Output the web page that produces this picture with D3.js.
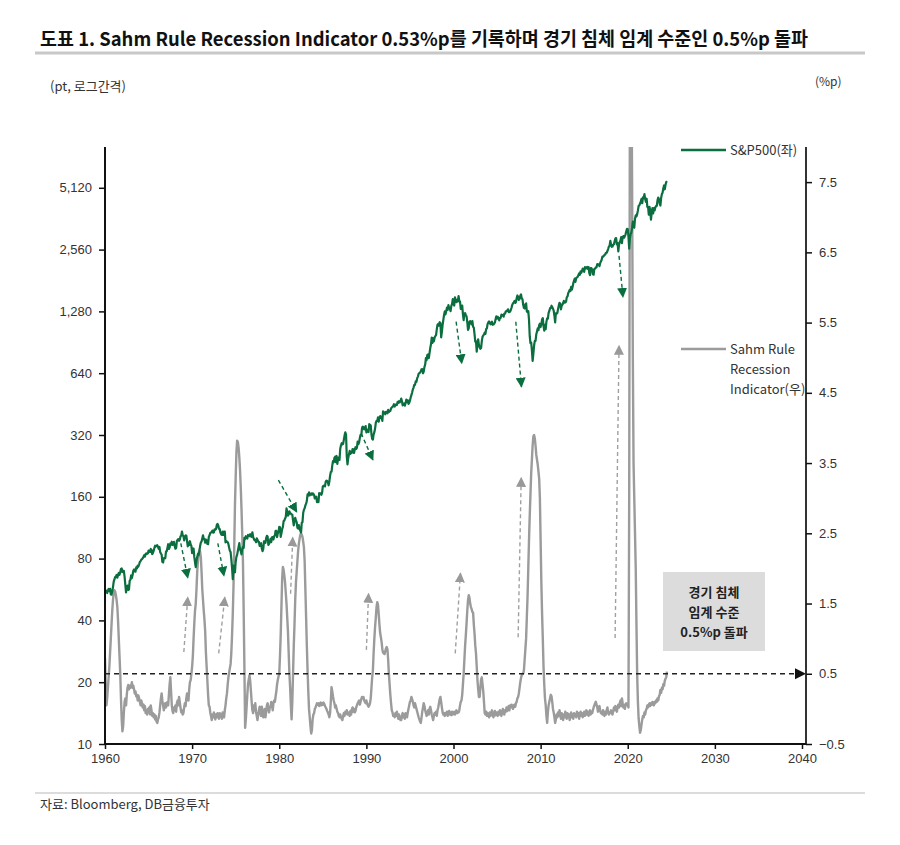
<!DOCTYPE html>
<html><head><meta charset="utf-8">
<script src="https://cdn.jsdelivr.net/npm/d3@7"></script>
<style>body{margin:0;background:#fff}svg{display:block}</style>
</head><body>
<svg id="c" width="900" height="845"></svg>
<script>
// ---------------- data ----------------
const startYear = 1960; // monthly series, first point = Jan 1960
const sp500 = [
55.6,56.1,55.3,54.4,55.8,56.9,55.5,57.0,53.5,53.4,55.5,58.1,
61.8,63.4,65.1,65.3,66.6,64.6,66.8,68.1,66.7,68.6,71.3,71.6,
68.8,69.9,69.6,65.2,59.6,54.8,58.2,59.1,56.3,56.5,62.3,63.1,
66.2,64.3,66.6,69.8,70.8,69.4,69.1,72.5,71.7,74.0,73.2,75.0,
77.0,77.8,79.0,79.5,80.4,81.7,83.2,81.8,84.2,84.9,84.4,84.8,
87.6,87.4,86.2,89.1,88.4,84.1,85.3,87.2,90.0,92.4,91.6,92.4,
92.9,91.2,89.2,91.1,86.1,84.7,83.6,77.1,76.6,80.2,80.5,80.3,
86.6,86.8,90.2,94.0,89.1,90.6,94.8,93.6,96.7,93.3,94.0,96.5,
92.2,89.4,90.2,97.5,98.7,99.6,97.7,98.9,102.7,103.4,108.4,103.9,
103.0,98.1,101.5,103.7,103.5,97.7,91.8,95.5,93.1,97.2,93.8,92.1,
85.0,89.5,89.6,81.5,76.6,72.7,78.1,81.5,84.3,83.3,87.2,92.2,
95.9,96.8,100.3,103.9,99.6,99.7,95.6,99.0,98.3,94.2,94.0,102.1,
103.9,106.6,107.2,107.7,109.5,107.1,107.4,111.1,110.6,111.6,116.7,118.1,
116.0,111.7,111.5,107.0,105.0,104.3,108.2,104.3,108.4,108.3,96.0,97.6,
96.6,96.2,94.0,90.3,87.3,86.0,79.3,72.2,63.5,73.9,70.0,68.6,
77.0,81.6,83.4,87.3,91.2,95.2,88.8,86.9,83.9,89.0,91.2,90.2,
100.9,99.7,102.8,101.6,100.2,104.3,103.4,102.9,105.2,102.9,102.1,107.5,
102.0,99.8,98.4,98.4,96.1,100.5,98.9,96.8,96.5,92.3,94.8,95.1,
89.3,87.0,89.2,97.0,97.2,95.5,100.7,103.3,102.5,93.2,94.7,96.1,
99.9,96.3,101.6,101.8,99.1,102.9,103.8,109.3,109.3,101.8,106.2,107.9,
114.2,113.7,102.1,106.3,111.2,114.2,121.7,122.4,125.5,127.5,140.5,135.8,
129.6,131.3,136.0,132.8,132.6,131.2,130.9,122.8,116.2,121.9,126.4,122.6,
120.4,113.1,112.0,116.4,111.9,109.6,107.1,119.5,120.4,133.7,138.5,140.6,
145.3,148.1,153.0,164.4,162.4,168.1,162.6,164.4,166.1,163.6,166.4,164.9,
163.4,157.1,159.2,160.1,150.6,153.2,150.7,166.7,166.1,166.1,163.6,167.2,
179.6,181.2,180.7,179.8,189.6,191.9,190.9,188.6,182.1,189.8,202.2,211.3,
211.8,226.9,238.9,235.5,247.4,250.8,236.1,252.9,231.3,244.0,249.2,242.2,
274.1,284.2,291.7,288.4,290.1,304.0,318.7,329.8,321.8,251.8,230.3,247.1,
257.1,267.8,258.9,261.3,262.2,273.5,272.0,261.5,271.9,279.0,273.7,277.7,
297.5,288.9,294.9,309.6,320.5,318.0,346.1,351.5,349.2,340.4,346.0,353.4,
329.1,331.9,339.9,330.8,361.2,358.0,356.2,322.6,306.1,304.0,322.2,330.2,
343.9,367.1,375.2,375.3,389.8,371.2,387.8,395.4,387.9,392.5,375.2,417.1,
408.8,412.7,403.7,415.0,415.4,408.1,424.2,414.0,417.8,418.7,431.4,435.7,
438.8,443.4,451.7,440.2,450.2,450.5,448.1,463.6,458.9,467.8,461.8,466.5,
481.6,467.1,445.8,450.9,456.5,444.3,458.3,475.5,462.7,472.4,453.7,459.3,
470.4,487.4,500.7,514.7,533.4,544.8,562.1,561.9,584.4,581.5,605.4,615.9,
636.0,640.4,645.5,654.2,669.1,670.6,640.0,652.0,687.3,705.3,757.0,740.7,
786.2,790.8,757.1,801.3,848.3,885.1,954.3,899.5,947.3,914.6,955.4,970.4,
980.3,1049.3,1101.8,1111.8,1090.8,1133.8,1120.7,957.3,1017.0,1098.7,1163.6,1229.2,
1279.6,1238.3,1286.4,1335.2,1301.8,1372.7,1328.7,1320.4,1282.7,1362.9,1388.9,1469.3,
1394.5,1366.4,1498.6,1452.4,1420.6,1454.6,1430.8,1517.7,1436.5,1429.4,1315.2,1320.3,
1366.0,1239.9,1160.3,1249.5,1255.8,1224.4,1211.2,1133.6,1040.9,1059.8,1139.5,1148.1,
1130.2,1106.7,1147.4,1076.9,1067.1,989.8,911.6,916.1,815.3,885.8,936.3,879.8,
855.7,841.2,848.2,916.9,963.6,974.5,990.3,1008.0,996.0,1050.7,1058.2,1111.9,
1131.1,1144.9,1126.2,1107.3,1120.7,1140.8,1101.7,1104.2,1114.6,1130.2,1173.8,1211.9,
1181.3,1203.6,1180.6,1156.9,1191.5,1191.3,1234.2,1220.3,1228.8,1207.0,1249.5,1248.3,
1280.1,1280.7,1294.9,1310.6,1270.1,1270.2,1276.7,1303.8,1335.9,1377.9,1400.6,1418.3,
1438.2,1406.8,1420.9,1482.4,1530.6,1503.4,1455.3,1474.0,1526.8,1549.4,1481.1,1468.4,
1378.6,1330.6,1322.7,1385.6,1400.4,1280.0,1267.4,1282.8,1166.4,968.8,896.2,903.3,
825.9,735.1,797.9,872.8,919.1,919.3,987.5,1020.6,1057.1,1036.2,1095.6,1115.1,
1073.9,1104.5,1169.4,1186.7,1089.4,1030.7,1101.6,1049.3,1141.2,1183.3,1180.6,1257.6,
1286.1,1327.2,1325.8,1363.6,1345.2,1320.6,1292.3,1218.9,1131.4,1253.3,1247.0,1257.6,
1312.4,1365.7,1408.5,1397.9,1310.3,1362.2,1379.3,1406.6,1440.7,1412.2,1416.2,1426.2,
1498.1,1514.7,1569.2,1597.6,1630.7,1606.3,1685.7,1633.0,1681.6,1756.5,1805.8,1848.4,
1782.6,1859.5,1872.3,1884.0,1923.6,1960.2,1930.7,2003.4,1972.3,2018.1,2067.6,2058.9,
1995.0,2104.5,2067.9,2085.5,2107.4,2063.1,2103.8,1972.2,1920.0,2079.4,2080.4,2043.9,
1940.2,1932.2,2059.7,2065.3,2097.0,2098.9,2173.6,2171.0,2168.3,2126.2,2198.8,2238.8,
2278.9,2363.6,2362.7,2384.2,2411.8,2423.4,2470.3,2471.7,2519.4,2575.3,2647.6,2673.6,
2823.8,2713.8,2640.9,2648.1,2705.3,2718.4,2816.3,2901.5,2914.0,2711.7,2760.2,2506.9,
2704.1,2784.5,2834.4,2945.8,2752.1,2941.8,2980.4,2926.5,2976.7,3037.6,3141.0,3230.8,
3225.5,2954.2,2584.6,2912.4,3044.3,3100.3,3271.1,3500.3,3363.0,3270.0,3621.6,3756.1,
3714.2,3811.2,3972.9,4181.2,4204.1,4297.5,4395.3,4522.7,4307.5,4605.4,4567.0,4766.2,
4515.6,4373.9,4530.4,4131.9,4132.2,3785.4,4130.3,3955.0,3585.6,3872.0,4080.1,3839.5,
4076.6,3970.2,4109.3,4169.5,4179.8,4450.4,4589.0,4507.7,4288.1,4193.8,4567.8,4769.8,
4845.7,5096.3,5254.4,5035.7,5277.5,5460.5,5522.3
];
const sahm = [
0.72,0.35,0.05,0.15,0.30,0.45,0.60,0.80,1.00,1.20,1.40,1.55,
1.65,1.69,1.67,1.62,1.55,1.45,1.25,1.00,0.75,0.50,0.15,-0.15,
-0.32,-0.25,-0.05,0.10,0.15,0.05,0.20,0.30,0.34,0.28,0.33,0.30,
0.32,0.38,0.30,0.33,0.28,0.22,0.25,0.18,0.20,0.12,0.19,0.15,
0.10,0.05,0.12,0.08,0.02,0.06,-0.02,0.04,-0.06,-0.03,-0.08,0.00,
-0.05,0.02,-0.08,0.05,-0.02,-0.10,-0.06,-0.12,-0.08,-0.15,-0.10,-0.18,
-0.20,-0.15,-0.12,-0.05,0.05,0.15,0.22,0.12,0.05,-0.02,0.03,0.08,
0.02,0.06,0.10,0.05,0.20,0.35,0.45,0.25,0.05,-0.03,-0.06,0.02,
-0.02,0.05,-0.04,0.08,0.12,0.05,0.17,0.10,0.02,-0.05,-0.02,-0.08,
-0.06,0.02,0.08,0.04,0.15,0.22,0.18,0.12,0.28,0.38,0.41,0.50,
0.60,0.75,1.00,1.22,1.40,1.50,1.70,1.95,2.10,2.22,2.26,2.24,
2.16,1.95,1.70,1.55,1.40,1.27,1.10,0.80,0.60,0.40,0.20,0.05,
0.03,-0.05,-0.10,-0.16,-0.08,-0.12,-0.05,-0.10,-0.15,-0.08,-0.12,-0.06,
-0.10,-0.14,-0.06,-0.11,-0.08,-0.14,-0.05,-0.09,-0.12,-0.02,0.05,0.15,
0.22,0.35,0.45,0.52,0.58,0.64,0.80,1.05,1.35,1.75,2.30,2.90,
3.30,3.65,3.82,3.80,3.72,3.58,3.40,3.15,2.85,2.50,2.10,1.40,
0.60,-0.27,-0.15,0.02,0.20,0.35,0.42,0.48,0.40,0.25,0.10,-0.02,
-0.06,0.05,-0.02,0.08,-0.04,-0.10,-0.16,-0.08,-0.02,0.03,-0.06,-0.10,
0.03,-0.05,-0.12,-0.06,0.00,-0.12,-0.04,0.05,0.08,0.00,-0.05,0.02,
0.03,0.10,0.05,-0.02,0.08,0.12,0.10,0.18,0.25,0.35,0.41,0.46,
0.50,0.75,1.05,1.45,1.85,2.02,1.98,1.90,1.80,1.65,1.50,1.30,
1.10,0.80,0.50,0.30,0.05,-0.15,0.10,0.50,0.90,1.20,1.55,1.80,
1.95,2.10,2.25,2.35,2.42,2.48,2.50,2.48,2.45,2.38,2.30,2.10,
1.70,1.30,0.90,0.55,0.25,0.00,-0.12,-0.25,-0.35,-0.30,-0.15,-0.08,
-0.06,0.00,0.02,0.05,0.08,0.06,0.08,0.04,0.07,0.09,0.05,0.08,
0.06,0.09,0.07,0.04,0.02,0.00,-0.03,-0.05,-0.08,-0.12,-0.06,0.10,
0.31,0.25,0.18,0.12,0.08,0.02,0.05,0.00,-0.04,-0.06,-0.10,-0.12,
-0.08,-0.12,-0.14,-0.16,-0.10,-0.06,-0.10,-0.04,-0.07,-0.02,-0.08,-0.05,
-0.06,-0.10,-0.03,-0.08,-0.01,0.02,-0.04,0.00,-0.05,-0.03,0.02,0.05,
0.08,0.10,0.12,0.06,0.10,0.14,0.17,0.15,0.17,0.12,0.10,0.08,
0.12,0.08,0.05,0.03,0.05,0.08,0.15,0.30,0.45,0.55,0.80,1.00,
1.17,1.30,1.45,1.52,1.48,1.35,1.20,1.08,1.02,0.95,0.85,0.80,
0.79,0.78,0.82,0.86,0.88,0.85,0.70,0.50,0.35,0.20,0.08,-0.02,
-0.05,-0.10,-0.08,-0.12,-0.06,-0.10,-0.04,-0.09,-0.14,-0.08,-0.12,-0.16,
-0.16,-0.10,-0.06,-0.12,-0.08,-0.14,-0.06,-0.10,-0.12,-0.05,0.00,0.05,
0.10,0.12,0.17,0.14,0.10,0.05,0.02,0.08,0.04,0.00,-0.04,-0.08,
-0.12,-0.15,-0.18,-0.20,-0.12,-0.04,0.02,0.08,0.04,-0.02,-0.06,-0.10,
-0.05,-0.02,-0.08,0.00,0.03,-0.02,-0.08,-0.12,-0.16,-0.10,-0.06,-0.08,
-0.04,-0.10,-0.02,0.02,0.08,0.14,0.17,0.10,0.02,-0.05,-0.08,-0.06,
-0.10,-0.06,-0.08,-0.04,-0.10,-0.06,-0.03,-0.08,-0.05,-0.09,-0.04,-0.08,
-0.06,-0.04,-0.08,-0.05,-0.02,-0.06,-0.04,-0.05,-0.02,0.05,0.10,0.12,
0.20,0.35,0.50,0.70,0.90,1.05,1.22,1.40,1.55,1.62,1.58,1.50,
1.45,1.42,1.38,1.37,1.20,1.07,0.90,0.79,0.60,0.41,0.28,0.17,
0.17,0.30,0.42,0.45,0.35,0.25,0.10,-0.06,-0.08,-0.04,-0.10,-0.06,
-0.08,-0.12,-0.05,-0.10,-0.06,-0.02,-0.08,-0.12,-0.07,-0.03,-0.09,-0.05,
-0.06,-0.10,-0.04,-0.08,-0.02,-0.06,-0.10,-0.04,0.00,-0.05,-0.08,-0.02,
-0.04,0.02,-0.03,0.00,0.04,-0.02,0.05,0.02,0.06,0.03,0.00,0.05,
0.06,0.03,0.08,0.10,0.15,0.17,0.22,0.30,0.38,0.44,0.48,0.50,
0.50,0.55,0.70,0.85,1.00,1.30,1.60,2.00,2.40,2.75,3.05,3.35,
3.55,3.75,3.88,3.90,3.85,3.75,3.62,3.55,3.48,3.38,3.28,3.00,
2.40,1.80,1.36,1.00,0.60,0.35,0.15,0.05,-0.10,-0.20,-0.05,0.05,
0.10,0.15,0.20,0.18,0.10,0.00,-0.05,-0.12,-0.20,-0.15,-0.08,-0.12,
-0.05,-0.10,-0.02,-0.08,-0.14,-0.06,-0.10,-0.16,-0.08,-0.12,-0.04,-0.10,
-0.14,-0.06,-0.12,-0.08,-0.16,-0.10,-0.05,-0.12,-0.08,-0.14,-0.06,-0.10,
-0.08,-0.12,-0.04,-0.10,-0.06,-0.14,-0.08,-0.04,-0.10,-0.06,-0.12,-0.08,
-0.04,-0.10,-0.06,-0.02,-0.08,-0.04,-0.10,-0.06,-0.02,-0.08,-0.04,-0.06,
-0.02,0.02,0.05,0.08,0.10,0.06,0.02,-0.04,0.00,0.04,-0.02,-0.06,
-0.04,-0.08,-0.02,-0.06,-0.10,-0.04,-0.08,-0.02,0.02,-0.04,-0.08,-0.05,
-0.06,-0.02,-0.05,-0.08,-0.03,0.02,-0.02,0.04,0.00,-0.04,0.02,0.06,
0.02,0.08,0.12,0.04,0.15,0.08,0.02,0.06,0.00,0.05,0.08,0.06,
0.05,0.02,3.00,9.00,9.50,9.20,7.50,5.00,3.50,3.00,2.50,2.00,
1.20,0.48,0.10,-0.14,-0.25,-0.34,-0.30,-0.22,-0.15,-0.10,-0.12,-0.05,
-0.08,-0.02,0.00,0.05,0.02,0.06,0.08,0.04,0.08,0.06,0.10,0.07,
0.05,0.10,0.08,0.12,0.10,0.15,0.12,0.18,0.20,0.27,0.23,0.30,
0.28,0.35,0.33,0.40,0.43,0.45,0.53
];
const leftTicks = [10,20,40,80,160,320,640,1280,2560,5120];
const rightTicks = [-0.5,0.5,1.5,2.5,3.5,4.5,5.5,6.5,7.5];
const xTicks = [1960,1970,1980,1990,2000,2010,2020,2030,2040];
const threshold = 0.5;
// arrows: [fromYear, fromValue, toYear, toValue]
const spArrows = [
  [1968.7,95,1969.5,64.5],[1972.95,95,1973.65,66],[1979.9,193,1982.0,135],
  [1989.4,326,1990.75,242],[2000.3,1140,2000.95,715],[2007.15,1140,2007.8,550],
  [2019.0,2384,2019.45,1505]
];
const sahmArrows = [
  [1969.05,0.81,1969.5,1.59],[1973.05,0.79,1973.75,1.59],[1981.3,1.64,1981.55,2.44],
  [1990.0,0.84,1990.25,1.64],[2000.2,0.79,2000.8,1.93],[2007.42,1.02,2007.77,3.29],
  [2018.55,1.01,2019.0,5.17]
];
const titleText = "도표 1. Sahm Rule Recession Indicator 0.53%p를 기록하며 경기 침체 임계 수준인 0.5%p 돌파";
const leftUnit = "(pt, 로그간격)";
const rightUnit = "(%p)";
const legendSp = "S&P500(좌)";
const legendSahm = ["Sahm Rule","Recession","Indicator(우)"];
const noteLines = ["경기 침체","임계 수준","0.5%p 돌파"];
const sourceText = "자료: Bloomberg, DB금융투자";

// ---------------- layout ----------------
const L = 105, R = 806, T = 147, B = 744;
const GREEN = "#0b6e3e", GRAY = "#9b9b9b", INK = "#333";
const KR = "'Noto Sans CJK KR','Noto Sans',sans-serif";
const NUM = "'Liberation Sans',Arial,sans-serif";

const svg = d3.select("#c");
const x = d3.scaleLinear().domain([1960, 2040.46]).range([L, R]);
const yL = d3.scaleLog().base(2).domain([10, 8090]).range([B, T]);
const yR = d3.scaleLinear().domain([-0.5, 8]).range([B, T]);

const spData = sp500.map((v,i)=>({t:startYear+i/12, v}));
const sahmData = sahm.map((v,i)=>({t:startYear+i/12, v}));

// title
svg.append("text").attr("x",40).attr("y",46).text(titleText)
  .attr("font-family",KR).attr("font-weight",700).attr("font-size",19)
  .attr("fill","#111").attr("textLength",768).attr("lengthAdjust","spacingAndGlyphs");
svg.append("line").attr("x1",35).attr("x2",865).attr("y1",53).attr("y2",53)
  .attr("stroke","#c8c8c8").attr("stroke-width",3);

svg.append("text").attr("x",50).attr("y",91).text(leftUnit)
  .attr("font-family",KR).attr("font-size",13).attr("fill",INK);
svg.append("text").attr("x",815).attr("y",86).text(rightUnit)
  .attr("font-family",KR).attr("font-size",12).attr("fill",INK);

// clip
svg.append("defs").append("clipPath").attr("id","plot")
  .append("rect").attr("x",L).attr("y",T).attr("width",R-L).attr("height",B-T);

// lines
const lineSahm = d3.line().x(d=>x(d.t)).y(d=>yR(d.v));
const lineSp = d3.line().x(d=>x(d.t)).y(d=>yL(d.v));
const g = svg.append("g").attr("clip-path","url(#plot)");
g.append("path").datum(sahmData).attr("d",lineSahm)
  .attr("fill","none").attr("stroke",GRAY).attr("stroke-width",2.4).attr("stroke-linejoin","round");
g.append("path").datum(spData).attr("d",lineSp)
  .attr("fill","none").attr("stroke",GREEN).attr("stroke-width",2.2).attr("stroke-linejoin","round");

// threshold
svg.append("line").attr("x1",L).attr("x2",R-10).attr("y1",yR(threshold)).attr("y2",yR(threshold))
  .attr("stroke","#222").attr("stroke-width",1.3).attr("stroke-dasharray","5,4");
const ty = yR(threshold);
svg.append("path").attr("d",`M${R-11},${ty-5.5}L${R},${ty}L${R-11},${ty+5.5}Z`).attr("fill","#111");

// arrow markers
const defs = svg.select("defs");
[["mg",GREEN],["mq","#999"]].forEach(([id,c])=>{
  defs.append("marker").attr("id",id).attr("markerUnits","userSpaceOnUse")
    .attr("viewBox","0 0 10 10").attr("refX",9).attr("refY",5)
    .attr("markerWidth",10).attr("markerHeight",10).attr("orient","auto")
    .append("path").attr("d","M0,0L10,5L0,10Z").attr("fill",c);
});
svg.selectAll(".ag").data(spArrows).join("line")
  .attr("x1",d=>x(d[0])).attr("y1",d=>yL(d[1])).attr("x2",d=>x(d[2])).attr("y2",d=>yL(d[3]))
  .attr("stroke",GREEN).attr("stroke-width",1.4).attr("stroke-dasharray","4,3")
  .attr("marker-end","url(#mg)");
svg.selectAll(".aq").data(sahmArrows).join("line")
  .attr("x1",d=>x(d[0])).attr("y1",d=>yR(d[1])).attr("x2",d=>x(d[2])).attr("y2",d=>yR(d[3]))
  .attr("stroke","#a0a0a0").attr("stroke-width",1.4).attr("stroke-dasharray","4,3")
  .attr("marker-end","url(#mq)");

// axes
const fmt = d3.format(",");
const axL = svg.append("g").attr("transform",`translate(${L},0)`)
  .call(d3.axisLeft(yL).tickValues(leftTicks).tickFormat(fmt).tickSize(6).tickPadding(7));
const axR = svg.append("g").attr("transform",`translate(${R},0)`)
  .call(d3.axisRight(yR).tickValues(rightTicks).tickFormat(d=>d<0?"\u2212"+Math.abs(d).toFixed(1):d.toFixed(1)).tickSize(6).tickPadding(7));
const axB = svg.append("g").attr("transform",`translate(0,${B})`)
  .call(d3.axisBottom(x).tickValues(xTicks).tickFormat(d3.format("d")).tickSize(5).tickPadding(5));
[axL,axR,axB].forEach(a=>{
  a.select(".domain").attr("stroke","#111").attr("stroke-width",2);
  a.selectAll(".tick line").attr("stroke","#111").attr("stroke-width",1.5);
  a.selectAll(".tick text").attr("font-family",NUM).attr("font-size",13).attr("fill",INK);
});
axR.select(".domain").attr("stroke","#333");
axL.select(".domain").attr("d",`M0,${T}V${B}`);
axR.select(".domain").attr("d",`M0,${T}V${B}`);
axB.select(".domain").attr("d",`M${L},0H${R}`);

// legend
svg.append("line").attr("x1",681).attr("x2",726).attr("y1",150).attr("y2",150)
  .attr("stroke",GREEN).attr("stroke-width",2.4);
svg.append("text").attr("x",730).attr("y",155).text(legendSp)
  .attr("font-family",KR).attr("font-size",13).attr("fill",INK);
svg.append("line").attr("x1",681).attr("x2",726).attr("y1",349).attr("y2",349)
  .attr("stroke",GRAY).attr("stroke-width",2.4);
legendSahm.forEach((s,i)=>svg.append("text").attr("x",730).attr("y",354+i*20).text(s)
  .attr("font-family",KR).attr("font-size",13).attr("fill",INK));

// note box
svg.append("rect").attr("x",663).attr("y",572).attr("width",102).attr("height",79).attr("fill","#dcdcdc");
noteLines.forEach((s,i)=>svg.append("text").attr("x",714).attr("y",597+i*20).text(s)
  .attr("text-anchor","middle").attr("font-family",KR).attr("font-weight",700)
  .attr("font-size",13).attr("fill","#222"));

// footer
svg.append("line").attr("x1",35).attr("x2",865).attr("y1",793).attr("y2",793)
  .attr("stroke","#d0d0d0").attr("stroke-width",1.5);
svg.append("text").attr("x",40).attr("y",809).text(sourceText)
  .attr("font-family",KR).attr("font-size",13).attr("fill",INK);
</script>
</body></html>
